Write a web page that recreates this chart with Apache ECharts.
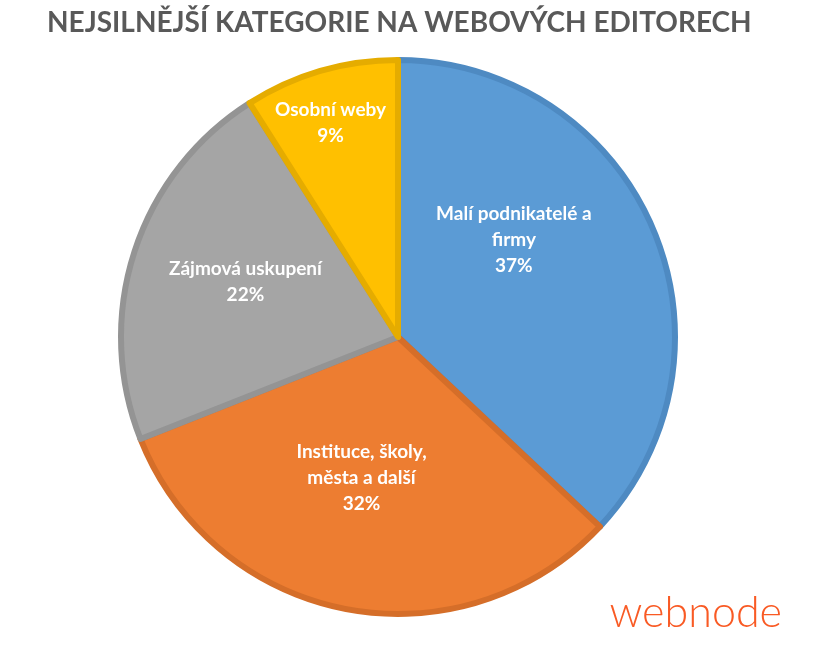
<!DOCTYPE html>
<html>
<head>
<meta charset="utf-8">
<script src="https://cdn.jsdelivr.net/npm/echarts@6/dist/echarts.min.js"></script>
<style>
html,body{margin:0;padding:0;background:#fff;}
#chart{width:818px;height:662px;}
</style>
</head>
<body>
<div id="chart"></div>
<script>
const categories = ["Malí podnikatelé a firmy", "Instituce, školy, města a další", "Zájmová uskupení", "Osobní weby"];
const labelLines = ["Malí podnikatelé a\nfirmy", "Instituce, školy,\nměsta a další", "Zájmová uskupení", "Osobní weby"];
const values = [37, 32, 22, 9];
const fillColors = ["#5B9BD5", "#ED7D31", "#A5A5A5", "#FFC000"];
const borderColors = ["#4E8AC2", "#D56E29", "#949494", "#E5AC00"];
const labelOffsets = [[-14, -41], [-10, 2], [-18, -11], [-28, -78]];

const chart = echarts.init(document.getElementById('chart'), null, {renderer: 'canvas'});
const data = categories.map((c, i) => ({
  name: c,
  value: values[i],
  itemStyle: {color: fillColors[i], borderColor: borderColors[i], borderWidth: 6},
  label: {offset: labelOffsets[i]}
}));
chart.setOption({
  animation: false,
  title: {
    text: 'NEJSILNĚJŠÍ KATEGORIE NA WEBOVÝCH EDITORECH',
    left: 42,
    top: 4,
    textStyle: {fontFamily: 'Lato', fontWeight: 'bold', fontSize: 28, color: '#595959'}
  },
  graphic: [{
    type: 'text',
    right: 36,
    top: 592,
    style: {text: 'webnode', fontFamily: 'Lato', fontWeight: 300, fontSize: 43, fill: '#F95A24'}
  }],
  series: [{
    type: 'pie',
    center: [398, 337],
    radius: [0, 277],
    startAngle: 90,
    clockwise: true,
    data: data,
    label: {
      show: true,
      position: 'inside',
      color: '#ffffff',
      fontFamily: 'Lato',
      fontWeight: 'bold',
      fontSize: 19,
      lineHeight: 26,
      align: 'center',
      formatter: p => labelLines[p.dataIndex] + '\n' + p.value + '%'
    },
    labelLine: {show: false},
    emphasis: {disabled: true}
  }]
});
</script>
</body>
</html>
